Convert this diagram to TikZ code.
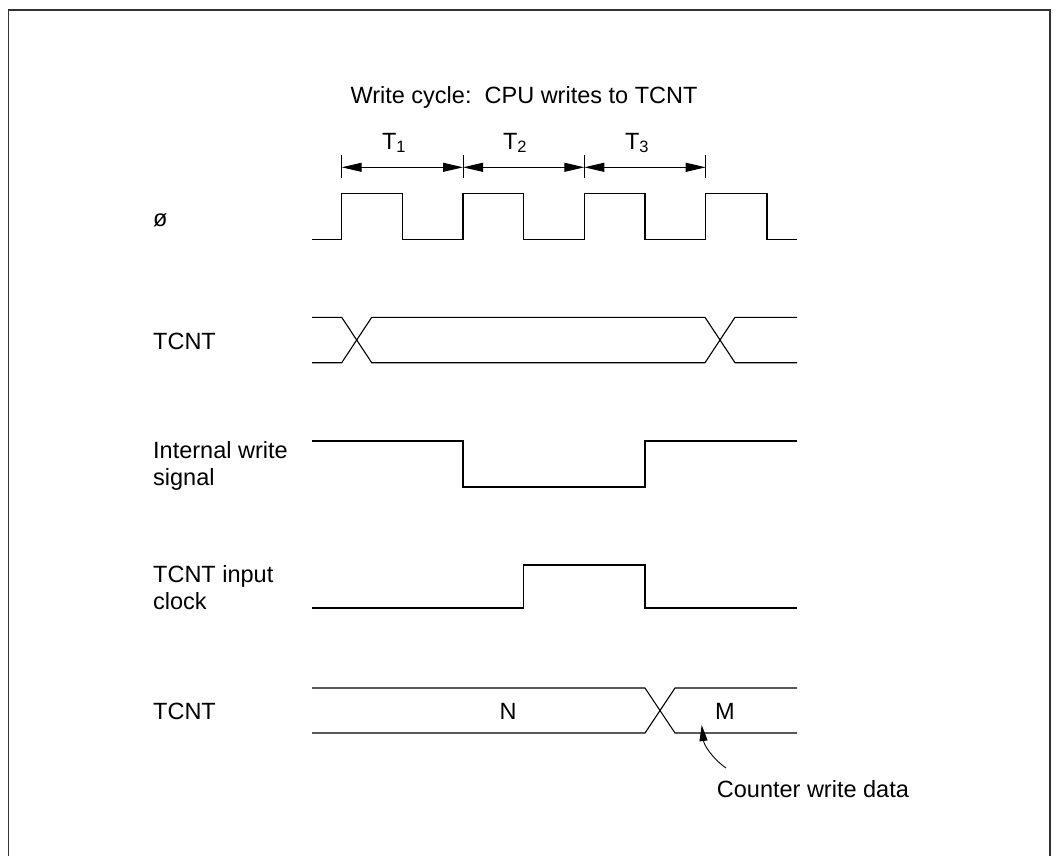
\documentclass[tikz,border=0pt]{standalone}
\usepackage{fontspec}
\setmainfont{Liberation Sans}
\usetikzlibrary{arrows.meta}
\begin{document}
\begin{tikzpicture}[x=1pt,y=-1pt,
  sig/.style={line width=1.1pt,line join=miter},
  lbl/.style={font=\fontsize{23.5}{27}\selectfont,inner sep=0pt,anchor=west,align=left},
  ctr/.style={font=\fontsize{23.5}{27}\selectfont,inner sep=0pt},
  dim/.style={line width=1pt,{Triangle[length=20pt,width=9pt]}-{Triangle[length=20pt,width=9pt]}},
  tick/.style={line width=0.9pt}]
\useasboundingbox (0,0) rectangle (1059,855);
\draw[line width=1.8pt,black!80] (8.5,856) -- (8.5,10) -- (1050,10) -- (1050,856);
% title
\node[ctr] (title) at (524,97) {Write cycle:\ \ CPU writes to TCNT};
% ticks
\foreach \n/\x in {a/341.7,b/463,c/584.3,d/705.7}{
  \coordinate (t\n) at (\x,167.3);
  \draw[tick] (\x,155) -- (\x,178.3);
}
\draw[dim] (ta) -- (tb);
\draw[dim] (tb) -- (tc);
\draw[dim] (tc) -- (td);
\node[ctr] (T1) at (394,143) {T\textsubscript{1}};
\node[ctr] (T2) at (515,143) {T\textsubscript{2}};
\node[ctr] (T3) at (637,143) {T\textsubscript{3}};
% labels
\node[lbl] (lphi) at (153,220) {ø};
\node[lbl] (ltcnt1) at (153,341) {TCNT};
\node[lbl] (liws) at (153,466) {Internal write\\signal};
\node[lbl] (lclk) at (153,588) {TCNT input\\clock};
\node[lbl] (ltcnt2) at (153,711) {TCNT};
% clock
\draw[sig] (312,239.3) -- (341.7,239.3) -- (341.7,193.3) -- (402.3,193.3) -- (402.3,239.3)
  -- (463,239.3) -- (463,193.3) -- (523.7,193.3) -- (523.7,239.3)
  -- (584.3,239.3) -- (584.3,193.3) -- (645,193.3) -- (645,239.3)
  -- (705.7,239.3) -- (705.7,193.3) -- (767,193.3) -- (767,239.3) -- (797,239.3);
% TCNT 1
\draw[sig] (312,317.3) -- (341.7,317.3) -- (371.7,362.7) -- (705,362.7) -- (735,317.3) -- (797,317.3);
\draw[sig] (312,362.7) -- (341.7,362.7) -- (371.7,317.3) -- (705,317.3) -- (735,362.7) -- (797,362.7);
% internal write
\draw[sig] (312,441) -- (463,441) -- (463,487) -- (645,487) -- (645,441) -- (797,441);
% input clock
\draw[sig] (312,608) -- (523.7,608) -- (523.7,565) -- (645,565) -- (645,608) -- (797,608);
% TCNT 2
\draw[sig] (312,688) -- (645,688) -- (675,733) -- (797,733);
\draw[sig] (312,733) -- (645,733) -- (675,688) -- (797,688);
\node[ctr] (N) at (508,711) {N};
\node[ctr] (M) at (725,711) {M};
% annotation
\node[lbl] (cwd) at (716.7,789) {Counter write data};
\coordinate (ctip) at (701.7,725);
\coordinate (cstart) at (726,768);
\draw[line width=0.9pt,-{Triangle[length=16pt,width=8pt]}] (cstart) .. controls (712,758) and (704,745) .. (ctip);
\end{tikzpicture}
\end{document}
